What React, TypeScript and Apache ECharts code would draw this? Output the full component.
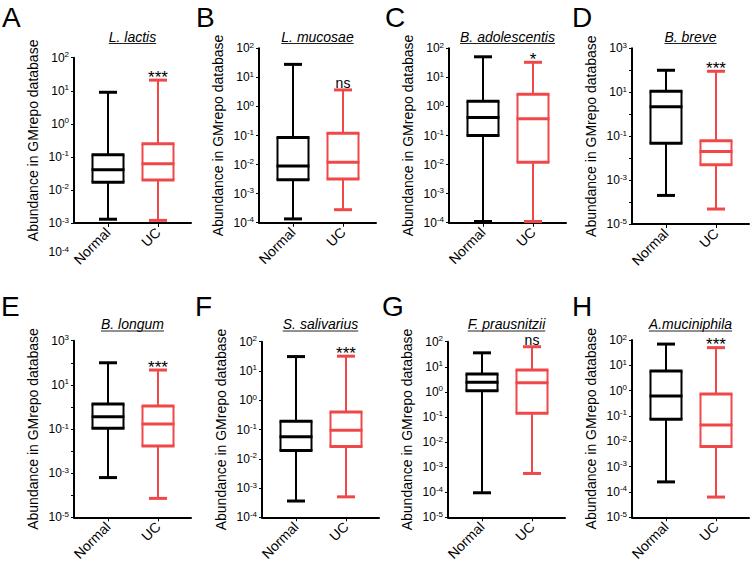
import React, { useEffect, useRef } from 'react';
import * as echarts from 'echarts';

// ---------------- data ----------------
const panelLetters = ['A', 'B', 'C', 'D', 'E', 'F', 'G', 'H'];
const speciesNames = ['L. lactis', 'L. mucosae', 'B. adolescentis', 'B. breve', 'B. longum', 'S. salivarius', 'F. prausnitzii', 'A.muciniphila'];
const groupNames = ['Normal', 'UC'];
// [min, Q1, median, Q3, max]
const normalStats = [
  [0.0013, 0.017, 0.041, 0.115, 9],
  [0.000135, 0.003, 0.009, 0.085, 28],
  [0.00011, 0.1, 0.42, 1.5, 51],
  [0.0002, 0.047, 2.2, 11, 100],
  [0.00063, 0.107, 0.36, 1.35, 100],
  [0.00036, 0.019, 0.057, 0.19, 31],
  [0.000095, 1.1, 2.4, 5.1, 36],
  [0.00025, 0.074, 0.62, 6, 69],
];
const ucStats = [
  [0.0012, 0.02, 0.062, 0.25, 21],
  [0.00028, 0.0032, 0.012, 0.12, 3.7],
  [0.00011, 0.012, 0.38, 2.6, 33],
  [0.000048, 0.005, 0.02, 0.062, 90],
  [0.000072, 0.017, 0.17, 1.1, 47],
  [0.0005, 0.026, 0.095, 0.4, 32],
  [0.00056, 0.14, 2.3, 7.4, 63],
  [0.000063, 0.0063, 0.044, 0.74, 50],
];
const significance = ['***', 'ns', '*', '***', '***', '***', 'ns', '***'];
const yMinExp = [-3, -4, -4, -5, -5, -4, -5, -5];
const yMaxExp = [2, 2, 2, 3, 3, 2, 2, 2];
const yLabelStep = [1, 1, 1, 2, 2, 1, 1, 1];
const yAxisName = 'Abundance in GMrepo database';
const strayLabelExp = -4; // extra tick label under panel A

// ---------------- layout / style ----------------
const FONT = 'Liberation Sans, Arial, sans-serif';
const BLACK = '#000000';
const RED = '#f04848';
const GRID_W = 117;
const gridBoxes = [
  { left: 74, top: 57.7, height: 165.3 },
  { left: 259, top: 48.3, height: 174.4 },
  { left: 449, top: 48.3, height: 174.4 },
  { left: 632, top: 48.3, height: 175.7 },
  { left: 74, top: 340.7, height: 176.6 },
  { left: 262, top: 341.7, height: 175.6 },
  { left: 448, top: 341.7, height: 175.6 },
  { left: 632, top: 340, height: 177.3 },
];
const letterPos = [
  [2, 17.5], [196, 17.5], [385, 17.5], [572, 17.5],
  [1, 306], [195, 306], [382, 306], [572, 306],
];
const titleMidY = [37, 37, 37, 37, 323.5, 323.5, 323.5, 323.5];
const underlineY = [43.5, 43.5, 43.5, 43.5, 331, 331, 331, 331];

function measureText(text: string, font: string): number {
  const ctx = document.createElement('canvas').getContext('2d');
  if (!ctx) return text.length * 7;
  ctx.font = font;
  return ctx.measureText(text).width;
}

const supRich = {
  s: { fontSize: 8, verticalAlign: 'top', color: BLACK, fontFamily: FONT, lineHeight: 9 },
};

function buildOption() {
  const grid: any[] = [];
  const xAxis: any[] = [];
  const yAxis: any[] = [];
  const series: any[] = [];
  const graphic: any[] = [];

  gridBoxes.forEach((g, i) => {
    grid.push({ left: g.left, top: g.top, width: GRID_W, height: g.height, containLabel: false, outerBoundsMode: 'none' });
    xAxis.push({
      gridIndex: i,
      type: 'value',
      min: 0.32,
      max: 2.66,
      splitLine: { show: false },
      axisLine: { show: true, onZero: false, lineStyle: { color: BLACK, width: 2 } },
      axisTick: { show: true, length: 4, customValues: [1, 2], lineStyle: { color: BLACK, width: 1 } },
      axisLabel: {
        customValues: [1, 2],
        rotate: 45,
        margin: 7,
        fontSize: 14,
        color: BLACK,
        fontFamily: FONT,
        formatter: (v: number) => groupNames[Math.round(v) - 1] || '',
      },
    });
    const step = yLabelStep[i];
    const minE = yMinExp[i];
    yAxis.push({
      gridIndex: i,
      type: 'log',
      logBase: 10,
      min: Number('1e' + yMinExp[i]),
      max: Number('1e' + yMaxExp[i]),
      interval: 1,
      splitLine: { show: false },
      axisLine: { show: true, onZero: false, lineStyle: { color: BLACK, width: 2 } },
      axisTick: { show: true, length: 3, lineStyle: { color: BLACK, width: 1 } },
      axisLabel: {
        fontSize: 12,
        color: BLACK,
        fontFamily: FONT,
        margin: 5,
        lineHeight: 14,
        rich: supRich,
        formatter: (v: number) => {
          const e = Math.round(Math.log10(v));
          if ((e - minE) % step !== 0) return '';
          return '10{s|' + e + '}';
        },
      },
      name: yAxisName,
      nameLocation: 'middle',
      nameGap: 34,
      nameTextStyle: { fontSize: 14, color: BLACK, fontFamily: FONT },
    });

    const sig = significance[i];
    series.push({
      type: 'custom',
      xAxisIndex: i,
      yAxisIndex: i,
      encode: { x: 0, y: [1, 2, 3, 4, 5] },
      data: [
        [1, ...normalStats[i]],
        [2, ...ucStats[i]],
      ],
      renderItem: (params: any, api: any) => {
        const gi = params.dataIndex;
        const x = api.value(0);
        const vals = [1, 2, 3, 4, 5].map((k) => api.value(k));
        const pts = vals.map((v) => api.coord([x, v]));
        const cx = pts[0][0];
        const [yMin, yQ1, yMed, yQ3, yMax] = pts.map((p: number[]) => p[1]);
        const color = gi === 0 ? BLACK : RED;
        const hb = 16.5;
        const hs = 15.5;
        const hc = 9;
        const ln = (x1: number, y1: number, x2: number, y2: number, w: number) => ({
          type: 'line',
          shape: { x1, y1, x2, y2 },
          style: { stroke: color, lineWidth: w },
        });
        const children: any[] = [
          ln(cx, yQ3, cx, yMax, 2),
          ln(cx, yQ1, cx, yMin, 2),
          ln(cx - hc, yMax, cx + hc, yMax, 3),
          ln(cx - hc, yMin, cx + hc, yMin, 3),
          ln(cx - hs, yQ3, cx - hs, yQ1, 2),
          ln(cx + hs, yQ3, cx + hs, yQ1, 2),
          ln(cx - hb, yQ3, cx + hb, yQ3, 3),
          ln(cx - hb, yQ1, cx + hb, yQ1, 3),
          ln(cx - hb, yMed, cx + hb, yMed, 3),
        ];
        if (gi === 1) {
          const isStar = sig.indexOf('*') >= 0;
          children.push({
            type: 'text',
            style: {
              text: sig,
              x: cx,
              y: isStar ? yMax - 3 : yMax - 7,
              align: 'center',
              verticalAlign: 'middle',
              fontSize: isStar ? 17 : 14,
              lineHeight: isStar ? 14 : 11,
              fontFamily: FONT,
              fill: BLACK,
            },
          });
        }
        return { type: 'group', children };
      },
    });

    // panel letter
    graphic.push({
      type: 'text',
      style: {
        text: panelLetters[i],
        x: letterPos[i][0],
        y: letterPos[i][1],
        align: 'left',
        verticalAlign: 'middle',
        fontSize: 28,
        fontFamily: FONT,
        fill: BLACK,
      },
    });
    // species title + underline
    const cxTitle = g.left + GRID_W / 2;
    const tw = measureText(speciesNames[i], 'italic 14px ' + FONT);
    graphic.push({
      type: 'text',
      style: {
        text: speciesNames[i],
        x: cxTitle,
        y: titleMidY[i],
        align: 'center',
        verticalAlign: 'middle',
        fontSize: 14,
        lineHeight: 12,
        fontStyle: 'italic',
        fontFamily: FONT,
        fill: BLACK,
      },
    });
    graphic.push({
      type: 'line',
      shape: { x1: cxTitle - tw / 2, y1: underlineY[i], x2: cxTitle + tw / 2, y2: underlineY[i] },
      style: { stroke: '#222', lineWidth: 1 },
    });
  });

  // stray tick label under panel A
  graphic.push({
    type: 'text',
    style: {
      text: '10{s|' + strayLabelExp + '}',
      rich: supRich,
      x: gridBoxes[0].left - 5,
      y: 252,
      align: 'right',
      verticalAlign: 'middle',
      fontSize: 12,
      lineHeight: 14,
      fontFamily: FONT,
      fill: BLACK,
    },
  });

  return {
    animation: false,
    backgroundColor: '#ffffff',
    grid,
    xAxis,
    yAxis,
    series,
    graphic,
  };
}

export default function App() {
  const ref = useRef<HTMLDivElement>(null);
  useEffect(() => {
    if (!ref.current) return;
    const chart = echarts.init(ref.current, undefined, { renderer: 'svg' });
    chart.setOption(buildOption() as any);
    return () => chart.dispose();
  }, []);
  return (
    <div
      ref={ref}
      style={{ position: 'absolute', left: 0, top: 0, width: 750, height: 562, background: '#fff' }}
    />
  );
}
